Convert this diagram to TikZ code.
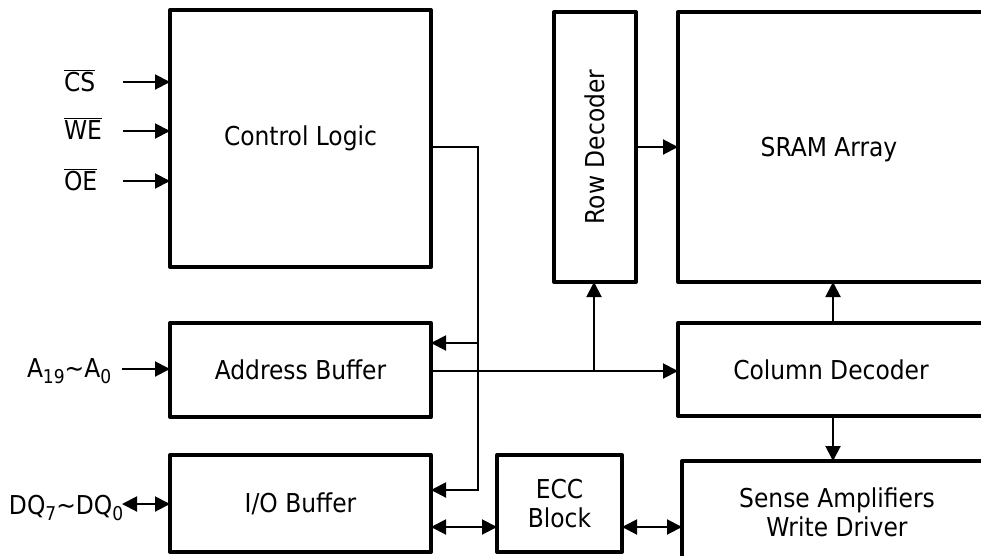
\documentclass[tikz,border=0pt]{standalone}
\usepackage{fontspec}
\setmainfont{DejaVu Sans Condensed}
\usetikzlibrary{arrows.meta}
\newcommand\lowidx[1]{\raisebox{-6.5pt}{\fontsize{19}{19}\selectfont #1}}
\begin{document}
\begin{tikzpicture}[x=1pt,y=-1pt,
  txt/.style={font=\fontsize{26}{29}\selectfont},
  box/.style={draw, line width=4pt, line join=round, inner sep=0pt, outer sep=0pt, anchor=north west, txt, align=center},
  lbl/.style={inner sep=0pt, outer sep=0pt, txt, align=center},
  conn/.style={line width=2pt},
  arr/.style={conn, -{Triangle[length=15pt,width=15pt]}},
  barr/.style={conn, {Triangle[length=15pt,width=15pt]}-{Triangle[length=15pt,width=15pt]}}]
\useasboundingbox (0,0) rectangle (981,555);

% blocks
\node[box, minimum width=261pt, minimum height=257pt] (ctrl) at (170,10) {Control Logic};
\node[box, minimum width=82pt, minimum height=270pt] (rowdec) at (554,12) {};
\node[lbl, rotate=90] (rowdect) at (rowdec.center) {Row Decoder};
\node[box, minimum width=330pt, minimum height=270pt] (sram) at (678,12) {};
\node[lbl] (sramt) at (829,150) {SRAM Array};
\node[box, minimum width=261pt, minimum height=94pt] (addr) at (170,323) {Address Buffer};
\node[box, minimum width=330pt, minimum height=93pt] (coldec) at (678,323) {};
\node[lbl] (coldect) at (831,370) {Column Decoder};
\node[box, minimum width=261pt, minimum height=97pt] (io) at (170,455) {I/O Buffer};
\node[box, minimum width=125pt, minimum height=97pt] (ecc) at (497,455) {ECC\\Block};
\node[box, minimum width=330pt, minimum height=120pt] (sense) at (682,461) {};
\node[lbl] (senset) at (837,512) {Sense Amplifiers\\Write Driver};

% input labels
\node[lbl, anchor=base west] (cs) at (64,91) {$\overline{\mbox{CS}}$};
\node[lbl, anchor=base west] (we) at (64,139) {$\overline{\mbox{WE}}$};
\node[lbl, anchor=base west] (oe) at (64,190) {$\overline{\mbox{OE}}$};
\node[lbl, anchor=base west] (alab) at (27,377) {A\lowidx{19}\textasciitilde A\lowidx{0}};
\node[lbl, anchor=base west] (dqlab) at (9,514) {DQ\lowidx{7}\textasciitilde DQ\lowidx{0}};

% input arrows
\coordinate (csin) at (123,82);
\coordinate (wein) at (123,131);
\coordinate (oein) at (123,181);
\coordinate (ain) at (122,369);
\coordinate (dqin) at (122,504);
\draw[arr] (csin) -- (csin -| ctrl.west);
\draw[arr] (wein) -- (wein -| ctrl.west);
\draw[arr] (oein) -- (oein -| ctrl.west);
\draw[arr] (ain) -- (ain -| addr.west);
\draw[barr] (dqin) -- (dqin -| io.west);

% control bus
\coordinate (bt) at (478,147);
\coordinate (ba) at (478,343);
\coordinate (bi) at (478,490);
\draw[arr] (ctrl.east |- bt) -- (bt) -- (bi) -- (bi -| io.east);
\draw[arr] (ba) -- (ba -| addr.east);

% address bus
\coordinate (aj) at (594,371);
\draw[arr] (addr.east |- aj) -- (aj -| coldec.west);
\draw[arr] (aj) -- (aj |- rowdec.south);

% decoders to array
\draw[arr] (rowdec.east |- bt) -- (bt -| sram.west);
\coordinate (cx) at (833,0);
\draw[arr] (coldec.north -| cx) -- (sram.south -| cx);
\draw[arr] (coldec.south -| cx) -- (sense.north -| cx);

% data path
\coordinate (dp) at (0,527);
\draw[barr] (io.east |- dp) -- (ecc.west |- dp);
\draw[barr] (ecc.east |- dp) -- (sense.west |- dp);
\end{tikzpicture}
\end{document}
